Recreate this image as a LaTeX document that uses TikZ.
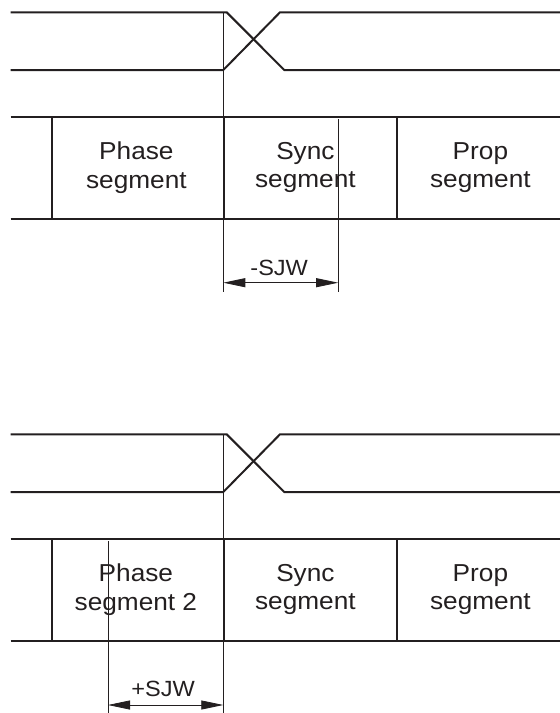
\documentclass[tikz,border=0pt]{standalone}
\usepackage{fontspec}
\newfontfamily\segfont[FakeStretch=1.07]{Liberation Sans}
\definecolor{wire}{RGB}{35, 31, 32}
\usetikzlibrary{arrows.meta, positioning}
\begin{document}
\begin{tikzpicture}[x=1pt, y=-1pt,
    bus/.style={draw=wire, line width=2pt},
    guide/.style={draw=wire, line width=0.8pt},
    seglabel/.style={font={\segfont\fontsize{24.5}{28.3}\selectfont}, align=center, text=wire, inner sep=0pt},
    sjwlabel/.style={font={\segfont\fontsize{22}{24}\selectfont}, text=wire, anchor=base, inner sep=0pt},
    sjwarrow/.style={draw=wire, line width=0.8pt, {Triangle[length=22pt, width=9pt]}-{Triangle[length=22pt, width=9pt]}}]
                \useasboundingbox (0,0) rectangle (560,713);

                % Both panels: bus lines, edge crossing, segment row
                \foreach \dy/\pn in {0/A, 422/B} {
                    \begin{scope}[shift={(0,\dy)}]
                        \draw[bus] (10.7,12.3) -- (226.7,12.3) -- (284.3,70) -- (560,70);
                        \draw[bus] (10.7,70) -- (223.3,70) -- (280,12.3) -- (560,12.3);
                        \draw[bus] (10.7,117.3) -- (560,117.3);
                        \draw[bus] (10.7,218.7) -- (560,218.7);
                        \foreach \sx in {51.8, 224, 396.8} {
                            \draw[bus] (\sx,117.3) -- (\sx,218.7);
                        }
                        \node[seglabel] (sync\pn) at (305.4,167.8) {Sync\\segment};
                        \node[seglabel] (prop\pn) at (480.4,167.8) {Prop\\segment};
                    \end{scope}
                }

                % Upper panel: edge late, -SJW
                \node[seglabel] (phaseA) at (136.4,167.8) {Phase\\segment};
                \draw[guide] (223.3,12.3) -- (223.3,291.7);
                \draw[guide] (338.2,119) -- (338.2,291.7);
                \coordinate (sjwA-l) at (223.3,282.7);
                \coordinate (sjwA-r) at (338.2,282.7);
                \draw[sjwarrow] (sjwA-l) -- (sjwA-r);
                \node[sjwlabel] (sjwA) at (279.2,275.7) {-SJW};

                % Lower panel: edge early, +SJW
                \node[seglabel] (phaseB) at (135.9,589.8) {Phase\\segment 2};
                \draw[guide] (223.3,434.3) -- (223.3,713);
                \draw[guide] (108,541) -- (108,713);
                \coordinate (sjwB-l) at (108,705);
                \coordinate (sjwB-r) at (223.3,705);
                \draw[sjwarrow] (sjwB-l) -- (sjwB-r);
                \node[sjwlabel] (sjwB) at (163.2,696.7) {+SJW};
            \end{tikzpicture}
\end{document}
